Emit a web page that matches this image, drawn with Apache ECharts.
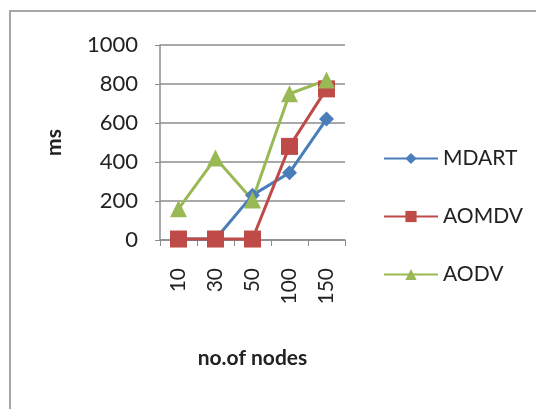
<!DOCTYPE html>
<html>
<head>
<meta charset="utf-8">
<script src="https://cdn.jsdelivr.net/npm/echarts@6/dist/echarts.min.js"></script>
<style>
  html, body { margin: 0; padding: 0; background: #fff; }
  #chart { width: 536px; height: 409px; }
</style>
</head>
<body>
<div id="chart"></div>
<script>
// Delay (ms) versus number of nodes for three routing protocols
const categories = ['10', '30', '50', '100', '150'];
const mdart = [5, 5, 230, 345, 620];
const aomdv = [5, 5, 5, 480, 775];
const aodv = [160, 420, 205, 750, 820];
const yTicks = { min: 0, max: 1000, interval: 200 };

const FONT = 'Lato, "Open Sans", sans-serif';
const chart = echarts.init(document.getElementById('chart'));

chart.setOption({
  backgroundColor: '#ffffff',
  animation: false,
  graphic: [{
    type: 'rect',
    shape: { x: 10, y: 11, width: 540, height: 420 },
    style: { fill: 'none', stroke: '#a6a6a6', lineWidth: 2 },
    z: -1
  }],
  grid: { left: 160, right: 191, top: 45, bottom: 169 },
  legend: {
    orient: 'vertical',
    left: 378,
    top: 143,
    itemWidth: 54,
    itemHeight: 14,
    itemGap: 37,
    textStyle: { fontFamily: FONT, fontSize: 21, color: '#222' },
    data: ['MDART', 'AOMDV', 'AODV']
  },
  xAxis: {
    type: 'category',
    data: categories,
    boundaryGap: true,
    name: 'no.of nodes',
    nameLocation: 'middle',
    nameGap: 108,
    nameTextStyle: { fontFamily: FONT, fontSize: 21, fontWeight: 'bold', color: '#222' },
    axisLine: { lineStyle: { color: '#8c8c8c', width: 1.5 } },
    axisTick: { show: true, length: 6, lineStyle: { color: '#8c8c8c' } },
    axisLabel: { rotate: 90, margin: 28, fontFamily: FONT, fontSize: 21, color: '#222' }
  },
  yAxis: {
    type: 'value',
    min: yTicks.min,
    max: yTicks.max,
    interval: yTicks.interval,
    name: 'ms',
    nameLocation: 'middle',
    nameGap: 95,
    nameRotate: 90,
    nameTextStyle: { fontFamily: FONT, fontSize: 21, fontWeight: 'bold', color: '#222' },
    axisLine: { show: true, lineStyle: { color: '#8c8c8c', width: 1.5 } },
    axisTick: { show: true, length: 5, lineStyle: { color: '#8c8c8c' } },
    splitLine: { lineStyle: { color: '#8c8c8c', width: 1.5 } },
    axisLabel: {
      margin: 22, fontFamily: FONT, fontSize: 22, color: '#222',
      formatter: v => String(v)
    }
  },
  series: [
    {
      name: 'MDART', type: 'line', data: mdart,
      symbol: 'diamond', symbolSize: 15,
      itemStyle: { color: '#4a7ebb' },
      lineStyle: { color: '#4a7ebb', width: 3 }
    },
    {
      name: 'AOMDV', type: 'line', data: aomdv,
      symbol: 'rect', symbolSize: 17,
      itemStyle: { color: '#be4b48' },
      lineStyle: { color: '#be4b48', width: 3 }
    },
    {
      name: 'AODV', type: 'line', data: aodv,
      symbol: 'triangle', symbolSize: 17,
      itemStyle: { color: '#98b954' },
      lineStyle: { color: '#98b954', width: 3 }
    }
  ]
});
</script>
</body>
</html>
